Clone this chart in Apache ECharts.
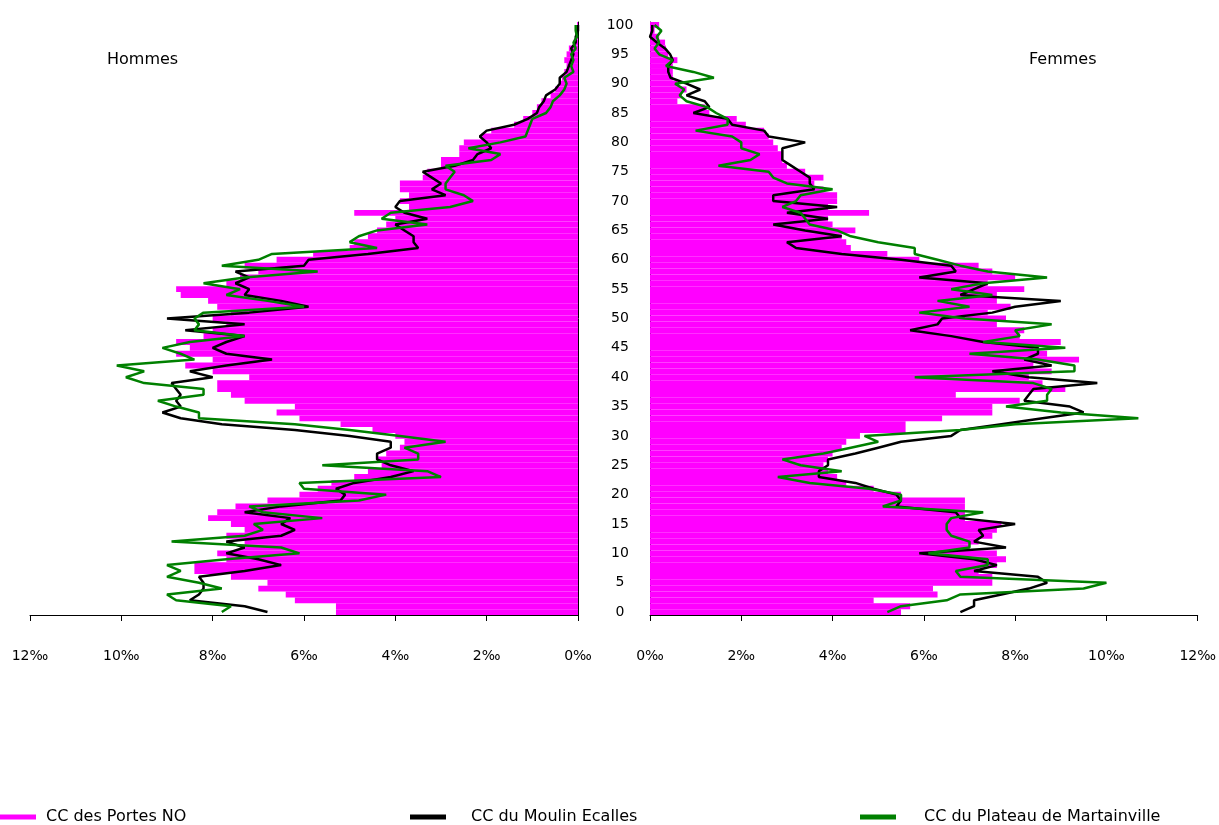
<!DOCTYPE html>
<html>
<head>
<meta charset="utf-8">
<script src="https://cdn.jsdelivr.net/npm/echarts@6/dist/echarts.min.js"></script>
<style>
html,body{margin:0;padding:0;background:#fff;}
#chart{width:1219px;height:825px;}
</style>
</head>
<body>
<div id="chart"></div>
<script>
// Ages (categories)
var ages = [];
for (var i = 0; i <= 100; i++) ages.push(String(i));

var seriesNames = ['CC des Portes NO', 'CC du Moulin Ecalles', 'CC du Plateau de Martainville'];
var panelTitles = ['Hommes', 'Femmes'];

// Hommes (‰), index = age
var portesH = [5.3,5.3,6.2,6.4,7.0,6.8,7.6,8.4,8.4,7.7, 7.9,7.4,7.3,7.7,7.3,7.6,8.1,7.9,7.5,6.8,
  6.1,5.7,5.4,4.9,4.6,4.3,4.4,4.2,3.9,3.8, 4.0,4.5,5.2,6.1,6.6,6.2,7.3,7.6,7.9,7.9,
  7.2,8.0,8.6,8.0,8.8,8.5,8.8,8.2,8.0,7.7, 8.0,7.6,7.9,8.1,8.7,8.8,7.7,7.4,7.0,7.3,
  6.6,5.8,5.0,4.9,4.6,4.4,4.2,4.0,4.9,3.7, 3.9,3.7,3.9,3.9,3.4,3.3,3.0,3.0,2.6,2.6,
  2.5,2.1,1.9,1.4,1.2,1.0,0.9,0.8,0.6,0.5, 0.4,0.35,0.3,0.25,0.3,0.25,0.2,0.1,0.05,0.05, 0.02];
var moulinH = [6.8,7.3,8.5,8.3,8.2,8.2,8.3,7.3,6.5,7.0, 7.7,7.3,7.7,6.5,6.2,6.5,6.3,7.3,6.5,5.2,
  5.1,5.3,4.9,4.1,3.6,4.1,4.4,4.4,4.1,4.1, 5.0,6.2,7.8,8.7,9.1,8.7,8.8,8.7,8.8,8.9,
  8.0,8.5,7.7,6.7,7.7,8.0,7.7,7.3,8.6,7.3, 9.0,7.2,5.9,6.5,7.3,7.2,7.5,7.2,7.5,6.0,
  5.9,4.6,3.5,3.6,3.6,3.8,4.0,3.3,3.8,4.0, 3.9,2.9,3.2,3.0,3.2,3.4,2.7,2.3,2.2,1.9,
  2.0,2.15,2.0,1.4,1.1,0.9,0.85,0.75,0.7,0.5, 0.4,0.4,0.25,0.2,0.15,0.1,0.15,0.05,0.05,0.0, 0.0];
var plateauH = [7.8,7.6,8.8,9.0,7.8,8.3,9.0,8.7,9.0,7.7, 6.1,6.5,8.9,7.3,6.9,7.1,5.6,6.9,7.2,4.8,
  4.2,6.0,6.1,3.0,3.3,5.6,3.5,3.5,3.8,2.9, 3.9,5.0,6.2,8.3,8.3,8.8,9.2,8.2,8.2,9.5,
  9.9,9.5,10.1,8.4,8.7,9.1,8.5,7.3,8.4,8.3, 8.4,8.2,6.0,6.8,7.7,7.4,8.2,7.3,5.7,7.8,
  7.0,6.7,4.4,5.0,4.8,4.4,3.3,4.3,4.1,2.8, 2.3,2.5,2.9,2.9,2.8,2.7,2.9,1.9,1.7,2.4,
  1.7,1.15,1.1,1.05,1.0,0.7,0.6,0.55,0.4,0.3, 0.25,0.3,0.1,0.15,0.1,0.15,0.05,0.1,0.02,0.05, 0.05];

// Femmes (‰), index = age
var portesF = [5.5,5.7,4.9,6.3,6.2,7.5,7.5,7.2,7.6,7.8, 7.6,7.0,7.2,7.5,7.6,7.7,6.9,6.9,6.9,6.9,
  5.5,4.9,4.3,4.1,3.9,3.8,3.9,4.0,4.2,4.3, 4.6,5.6,5.6,6.4,7.5,7.5,8.1,6.7,9.1,8.6,
  8.3,8.8,8.4,9.4,8.7,8.4,9.0,8.1,8.2,7.6, 7.8,7.4,7.9,7.6,7.6,8.2,7.4,8.0,7.5,7.2,
  5.9,5.2,4.4,4.3,4.2,4.5,4.0,3.9,4.8,3.9, 4.1,4.1,3.8,3.6,3.8,3.4,3.0,2.9,2.9,2.8,
  2.7,2.6,2.5,2.1,1.9,1.3,1.2,0.6,0.7,0.8, 0.6,0.5,0.5,0.5,0.6,0.4,0.35,0.33,0.2,0.1, 0.2];
var moulinF = [6.8,7.1,7.1,7.7,8.3,8.7,8.5,7.1,7.6,7.1, 5.9,7.8,7.1,7.3,7.2,8.0,6.8,6.7,5.4,5.5,
  5.4,4.9,4.5,3.7,3.7,3.9,3.9,4.5,5.0,5.5, 6.6,6.8,7.7,8.6,9.5,9.2,8.2,8.3,8.4,9.8,
  8.3,7.5,8.8,8.2,8.5,8.5,7.3,6.6,5.7,6.3, 6.4,7.5,8.0,9.0,6.8,7.1,7.4,5.9,6.7,6.6,
  5.5,4.2,3.2,3.0,4.2,3.4,2.7,3.9,3.0,4.1, 2.7,2.7,3.6,3.5,3.5,3.3,3.1,2.9,2.9,2.9,
  3.4,2.6,2.5,1.8,1.7,0.95,1.3,1.2,0.8,1.1, 0.8,0.45,0.4,0.4,0.5,0.44,0.33,0.15,0.0,0.05, 0.05];
var plateauF = [5.2,5.5,6.5,6.8,9.5,10.0,6.8,6.7,7.4,7.4, 6.1,7.0,7.0,6.6,6.5,6.5,6.6,7.3,5.1,5.5,
  5.5,4.8,3.5,2.8,4.2,3.3,2.9,3.8,4.4,5.0, 4.7,6.8,8.0,10.7,9.0,7.8,8.7,8.7,8.8,8.4,
  5.8,9.3,9.3,8.5,7.0,9.1,7.3,8.1,8.0,8.8, 6.9,5.9,7.0,6.3,7.5,6.6,7.3,8.7,7.4,6.8,
  6.3,5.8,5.8,5.0,4.4,4.1,3.5,3.4,3.3,2.9, 3.2,3.3,4.0,3.0,2.7,2.6,1.5,2.2,2.4,2.0,
  2.0,1.8,1.0,1.7,1.7,1.45,1.25,0.8,0.65,0.75, 0.55,1.4,0.95,0.35,0.5,0.2,0.1,0.2,0.15,0.25, 0.1];

var FONT = 'DejaVu Sans, Liberation Sans, Arial, sans-serif';
var colors = ['#FF00FF', '#000000', '#008000'];

function xAx(grid, inverse) {
  return {
    gridIndex: grid, type: 'value', min: 0, max: 12, interval: 2, inverse: inverse,
    axisLine: { show: true, onZero: false, lineStyle: { color: '#000', width: 1 } },
    axisTick: { show: true, length: 6, lineStyle: { color: '#000' } },
    splitLine: { show: false },
    axisLabel: { formatter: '{value}‰', margin: 34, color: '#000', fontSize: 14, fontFamily: FONT }
  };
}
function bar(name, grid, data) {
  return { name: name, type: 'bar', xAxisIndex: grid, yAxisIndex: grid, data: data,
    barCategoryGap: '0%', barGap: '-100%', itemStyle: { color: colors[0] }, z: 1, silent: true };
}
function line(name, grid, data, color, z) {
  return { name: name, type: 'line', xAxisIndex: grid, yAxisIndex: grid, data: data,
    symbol: 'none', lineStyle: { color: color, width: 2.5 }, itemStyle: { color: color }, z: z, silent: true };
}
function legend(name, left, gap) {
  return { data: [name], left: left, top: 809, icon: 'rect', itemWidth: 36, itemHeight: 5,
    selectedMode: false, padding: 0,
    textStyle: { color: '#000', fontSize: 16, fontFamily: FONT, padding: [0, 0, 0, gap] } };
}

var chart = echarts.init(document.getElementById('chart'), null, { renderer: 'canvas' });
chart.setOption({
  animation: false,
  backgroundColor: '#fff',
  grid: [
    { left: 30, width: 548, top: 22, bottom: 210 },
    { left: 650, width: 550, top: 22, bottom: 210 }
  ],
  xAxis: [xAx(0, true), xAx(1, false)],
  yAxis: [
    { gridIndex: 0, type: 'category', data: ages, position: 'right',
      axisLine: { show: true, lineStyle: { color: '#000' } }, axisTick: { show: false }, axisLabel: { show: false } },
    { gridIndex: 1, type: 'category', data: ages, position: 'left',
      axisLine: { show: true, lineStyle: { color: '#000' } }, axisTick: { show: false },
      axisLabel: { interval: 4, margin: 30, align: 'center', color: '#000', fontSize: 14, fontFamily: FONT } }
  ],
  legend: [
    legend(seriesNames[0], 0, 5),
    legend(seriesNames[1], 410, 20),
    legend(seriesNames[2], 860, 23)
  ],
  graphic: [
    { type: 'text', left: 107, top: 52, style: { text: panelTitles[0], fill: '#000', font: '16px ' + FONT } },
    { type: 'text', left: 1029, top: 52, style: { text: panelTitles[1], fill: '#000', font: '16px ' + FONT } }
  ],
  series: [
    bar(seriesNames[0], 0, portesH),
    line(seriesNames[1], 0, moulinH, colors[1], 3),
    line(seriesNames[2], 0, plateauH, colors[2], 4),
    bar(seriesNames[0], 1, portesF),
    line(seriesNames[1], 1, moulinF, colors[1], 3),
    line(seriesNames[2], 1, plateauF, colors[2], 4)
  ]
});
</script>
</body>
</html>
